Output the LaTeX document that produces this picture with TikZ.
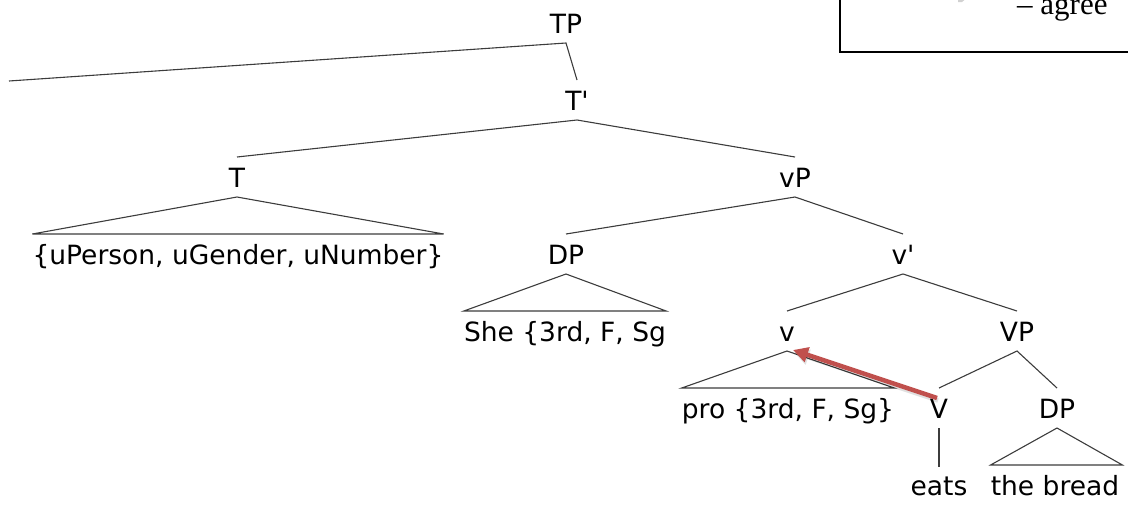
\documentclass[tikz,border=0pt]{standalone}
\usepackage{fontspec}
\setmainfont{DejaVu Sans}[Ligatures=TeXOff]
\newfontfamily\agreefont{Liberation Serif}
\usetikzlibrary{calc,arrows.meta}
\definecolor{treeline}{RGB}{60,60,60}
\definecolor{movered}{RGB}{192,80,77}
\definecolor{boxpurple}{RGB}{128,100,162}
\tikzset{
  lab/.style={font=\fontsize{26.5}{30}\selectfont, inner sep=0pt, anchor=base},
  branch/.style={draw=treeline, line width=1.1pt, line join=miter},
  movearrow/.style={draw=movered, line width=4.5pt, -{Triangle[length=15pt,width=15pt]}},
  moveshadow/.style={draw=black, opacity=0.12, line width=4.5pt, -{Triangle[length=15pt,width=15pt]}}
}
\begin{document}
\begin{tikzpicture}[x=1pt,y=-1pt]
\useasboundingbox (0,0) rectangle (1128,504);
% legend box (partly outside)
\fill[black!18] (889,-22) -- (958,-22) -- (958,2) -- (962,2) -- (984,-16) -- (962,-40) -- cycle;
\fill[boxpurple] (886,-25) -- (955,-25) -- (955,-1) -- (960,-1) -- (981,-19) -- (960,-43) -- cycle;
\draw[line width=2pt] (840,-5) -- (840,52) -- (1140,52);
\node[inner sep=0pt, anchor=base west, font=\agreefont\fontsize{31}{34}\selectfont] (agree) at (1017,14) {\textendash\ agree};
% nodes
\node[lab] (TP) at (566,33) {TP};
\node[lab] (Tb) at (577,110) {T'};
\node[lab] (T) at (237,187) {T};
\node[lab] (vP) at (795,187) {vP};
\node[lab] (uP) at (238,264) {\{uPerson, uGender, uNumber\}};
\node[lab] (DP) at (566,264) {DP};
\node[lab] (vb) at (903,264) {v'};
\node[lab] (She) at (565,341) {She \{3rd, F, Sg};
\node[lab] (v) at (787,341) {v};
\node[lab] (VP) at (1017,341) {VP};
\node[lab] (pro) at (788,418) {pro \{3rd, F, Sg\}};
\node[lab] (V) at (939,418) {V};
\node[lab] (DPb) at (1057,418) {DP};
\node[lab] (eats) at (939,495) {eats};
\node[lab] (bread) at (1055,495) {the bread};
\coordinate (leftend) at (9,81);
% branches
\draw[branch] (leftend) -- ($(TP.base)+(0,10)$) -- ($(Tb.base)+(0,-30)$);
\draw[branch] ($(T.base)+(0,-30)$) -- ($(Tb.base)+(0,10)$) -- ($(vP.base)+(0,-30)$);
\draw[branch] ($(uP.base west)+(0,-30)$) -- ($(T.base)+(0,10)$) -- ($(uP.base east)+(0,-30)$) -- cycle;
\draw[branch] ($(DP.base)+(0,-30)$) -- ($(vP.base)+(0,10)$) -- ($(vb.base)+(0,-30)$);
\draw[branch] ($(She.base west)+(0,-30)$) -- ($(DP.base)+(0,10)$) -- ($(She.base east)+(0,-30)$) -- cycle;
\draw[branch] ($(v.base)+(0,-30)$) -- ($(vb.base)+(0,10)$) -- ($(VP.base)+(0,-30)$);
\draw[branch] ($(pro.base west)+(0,-30)$) -- ($(v.base)+(0,10)$) -- ($(pro.base east)+(0,-30)$) -- cycle;
\draw[branch] ($(V.base)+(0,-30)$) -- ($(VP.base)+(0,10)$) -- ($(DPb.base)+(0,-30)$);
\draw[branch] ($(V.base)+(0,10)$) -- ($(eats.base)+(0,-28)$);
\draw[branch] ($(bread.base west)+(0,-30)$) -- ($(DPb.base)+(0,10)$) -- ($(bread.base east)+(3,-30)$) -- cycle;
% movement arrow
\coordinate (arrS) at (937,398);
\coordinate (arrE) at (793,350);
\draw[moveshadow] ($(arrS)+(1,2.5)$) -- ($(arrE)+(1,2.5)$);
\draw[movearrow] (arrS) -- (arrE);
\end{tikzpicture}
\end{document}
